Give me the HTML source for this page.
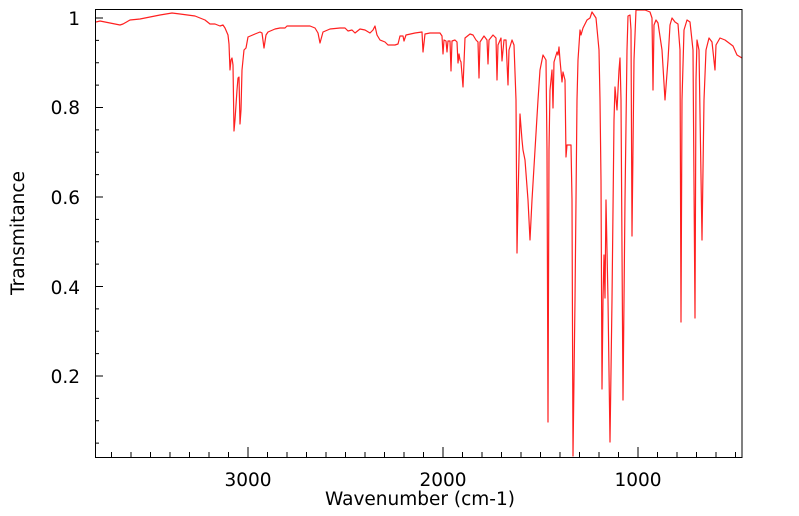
<!DOCTYPE html>
<html><head><style>body{margin:0;background:#fff}svg{display:block}</style></head><body>
<svg width="799" height="516" xmlns="http://www.w3.org/2000/svg" font-family="DejaVu Sans, Liberation Sans, sans-serif">
<rect width="799" height="516" fill="#fff"/>
<polyline fill="none" stroke="#ff2020" stroke-width="1.2" stroke-linejoin="round" points="
96,22 100,21 105,22 110,23 120,25 123,24 130,20 140,19 150,17 160,15 172,13 180,14 195,16 205,20 210,24 215,24 220,26 223,25 225,28 228,35 229,44 230,70 231,60 232,58 233,65 234,131 235,120 237,90 238,78 239,77 240,124 241,110 242,70 244,50 246,48 248,37 255,34 260,32 262,33 264,48 266,35 268,32 275,29 280,28 285,28 287,26 310,26 315,28 318,33 320,43 323,32 330,29 340,28 345,28 348,31 352,30 355,33 360,29 365,30 370,33 373,30 375,26 377,35 380,40 385,42 388,45 395,45 398,44 400,36 403,36 404,41 406,35 415,33 422,32 423,52 425,34 430,33 440,33 442,36 443,54 444,40 446,41 447,52 448,41 450,41 451,71 452,41 455,40 457,42 458,63 459,54 460,60 461,62 463,87 465,38 470,34 473,35 476,40 478,42 479,78 480,42 484,36 487,40 488,64 489,40 493,35 496,38 497,80 498,45 501,38 502,61 504,40 506,40 508,85 509,50 512,40 514,45 516,100 517,253 518,200 520,114 522,140 523,150 525,160 528,200 530,240 532,200 535,150 538,100 540,70 543,55 546,60 547,150 548,422 549,150 550,90 552,70 553,108 554,62 557,52 558,55 559,47 560,60 562,82 563,72 565,80 566,157 567,145 571,145 572,200 573,456 575,300 577,100 578,60 580,30 581,35 583,28 587,20 590,18 592,12 596,18 599,50 600,100 601,180 602,389 603,300 604,255 605,298 606,200 608,300 610,442 612,300 614,120 615,87 617,110 619,70 620,58 621,100 623,400 625,200 627,50 628,16 630,15 631,30 632,236 634,60 636,10 645,10 650,12 652,18 653,90 654,25 656,20 658,23 662,50 665,100 668,60 670,25 672,18 675,22 678,24 680,50 681,322 682,100 684,30 687,20 690,22 693,50 695,318 696,80 697,40 699,50 702,240 704,100 706,50 709,38 712,42 715,70 716,45 720,38 725,40 733,46 737,55 742,58"/>
<rect x="95.5" y="9.5" width="646.5" height="448" fill="none" stroke="#000" stroke-width="1"/>
<path stroke="#000" stroke-width="1" fill="none" d="
M111.5 457v-5M131 457v-5M150.5 457v-5M170 457v-5M189.5 457v-5M209 457v-5M228.5 457v-5M248 457v-10M267.5 457v-5M287 457v-5M306.5 457v-5M326 457v-5M345.5 457v-5M365 457v-5M384.5 457v-5M404 457v-5M423.5 457v-5M443 457v-10M462.5 457v-5M482 457v-5M501.5 457v-5M521 457v-5M540.5 457v-5M560 457v-5M579.5 457v-5M599 457v-5M618.5 457v-5M638 457v-10M657.5 457v-5M677 457v-5M696.5 457v-5M716 457v-5M735.5 457v-5
M95 18h8M95 40.4h4M95 62.75h4M95 85.1h4M95 107.5h8M95 129.9h4M95 152.25h4M95 174.6h4M95 197h8M95 219.4h4M95 241.75h4M95 264.1h4M95 286.5h8M95 308.9h4M95 331.25h4M95 353.6h4M95 376h8M95 398.4h4M95 420.75h4M95 443.1h4"/>
<g font-size="18.5" fill="#000" text-anchor="end">
<text x="80" y="25">1</text>
<text x="80" y="114">0.8</text>
<text x="80" y="204">0.6</text>
<text x="80" y="294">0.4</text>
<text x="80" y="383">0.2</text>
</g>
<g font-size="18.5" fill="#000" text-anchor="middle">
<text x="248" y="486">3000</text>
<text x="443" y="486">2000</text>
<text x="638" y="486">1000</text>
<text x="420" y="505">Wavenumber (cm-1)</text>
<text transform="translate(24,233) rotate(-90)">Transmitance</text>
</g>
</svg>
</body></html>
